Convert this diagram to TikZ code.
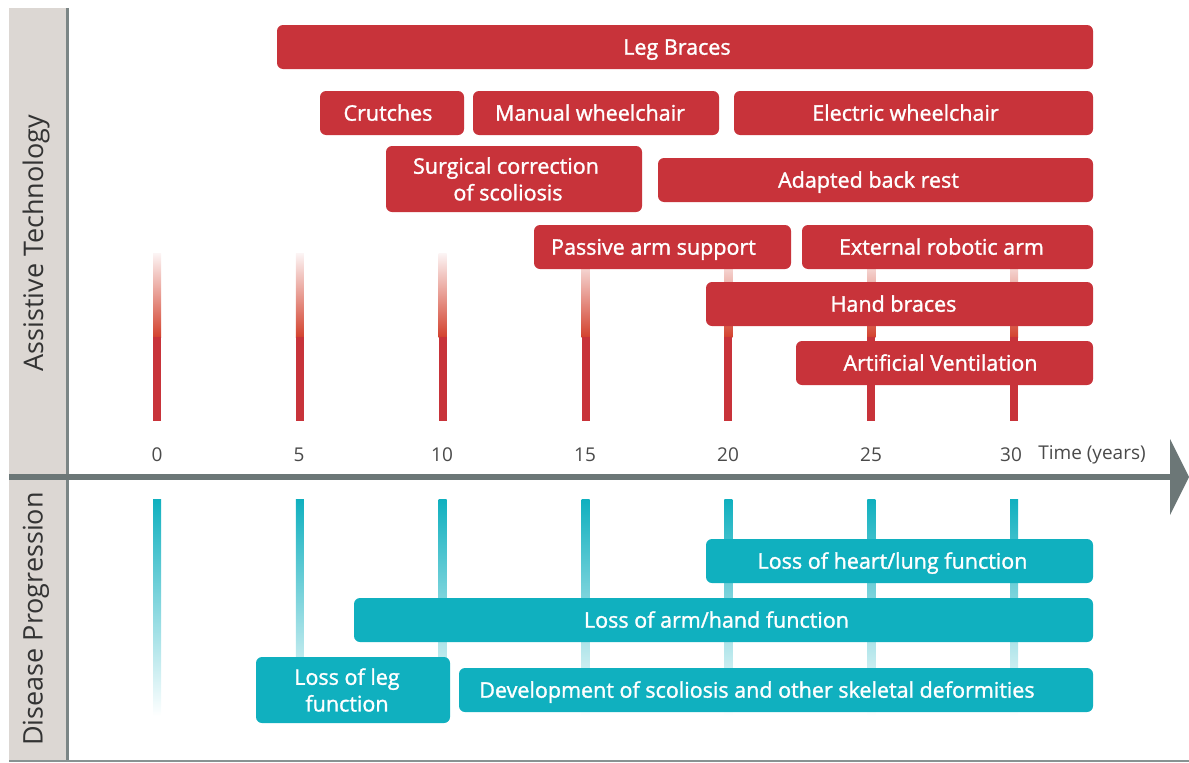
\documentclass[tikz,border=0pt]{standalone}
\usepackage{fontspec}
\setmainfont{Open Sans}
\newfontfamily\boxfont{Open Sans}[FakeBold=1.4]
\newcommand\rpad[1]{\hspace*{#1pt}}
\definecolor{side}{HTML}{DCD7D3}
\definecolor{axisgray}{HTML}{6C7777}
\definecolor{rbar}{HTML}{C8333A}
\definecolor{tbar}{HTML}{10B0BF}
\definecolor{lbl}{HTML}{4A4A4A}
\tikzset{
  rbox/.style={fill=rbar, draw=none, rounded corners=6pt, inner sep=0pt, outer sep=0pt, anchor=north west,
    text=white, align=center, font=\boxfont\fontsize{21.5}{26.7}\selectfont},
  tbox/.style={rbox, fill=tbar},
  one/.style={text height=15.4pt, text depth=0pt},
  ticklbl/.style={text=lbl, font=\fontsize{19}{22}\selectfont, inner sep=0pt},
  sidelbl/.style={rotate=90, text=black!80, font=\fontsize{27}{30}\selectfont, inner sep=0pt}
}
\begin{document}
\begin{tikzpicture}[x=1pt,y=-1pt]
\useasboundingbox (0,0) rectangle (1189,763);
% sidebar
\fill[side] (9,8) rectangle (66,761);
\draw[axisgray!90, line width=3pt] (67,8) -- (67,761);
\draw[axisgray!80, line width=2.5pt] (9,761) -- (1189,761);
\node[sidelbl] (sat) at (36,243) {Assistive Technology};
\node[sidelbl] (sdp) at (36,619) {Disease Progression};
% red and teal ticks
\foreach \t in {0,5,...,30}{
  \pgfmathsetmacro{\xx}{157+28.57*\t}
  \shade[top color=rbar!5, bottom color=rbar!80!orange] (\xx-4,253) rectangle (\xx+4,337);
  \fill[rbar] (\xx-4,337) rectangle (\xx+4,421);
  \shade[top color=tbar, bottom color=white] (\xx-4,499) rectangle (\xx+4,716);
}
% axis
\draw[axisgray, line width=6.5pt] (9,477) -- (1172,477);
\fill[axisgray] (1170,439) -- (1189,477) -- (1170,515) -- cycle;
% tick labels
\node[ticklbl] (l0) at (157,455) {0};
\node[ticklbl] (l5) at (299,455) {5};
\node[ticklbl] (l10) at (442,455) {10};
\node[ticklbl] (l15) at (585,455) {15};
\node[ticklbl] (l20) at (728,455) {20};
\node[ticklbl] (l25) at (871,455) {25};
\node[ticklbl] (l30) at (1011,455) {30};
\node[ticklbl] (ltime) at (1092,455) {Time (years)};
% red boxes
\node[rbox, one, minimum width=816pt, minimum height=44pt] (legbraces) at (277,25) {Leg Braces\rpad{16}};
\node[rbox, one, minimum width=144pt, minimum height=44pt] (crutches) at (320,91) {Crutches\rpad{8}};
\node[rbox, one, minimum width=246pt, minimum height=44pt] (manual) at (473,91) {Manual wheelchair\rpad{12}};
\node[rbox, one, minimum width=359pt, minimum height=44pt] (electric) at (734,91) {Electric wheelchair\rpad{16}};
\node[rbox, minimum width=256pt, minimum height=66pt] (surgical) at (386,146) {Surgical correction\rpad{16}\\of scoliosis\rpad{12}};
\node[rbox, one, minimum width=435pt, minimum height=44pt] (backrest) at (658,158) {Adapted back rest\rpad{14}};
\node[rbox, one, minimum width=257pt, minimum height=44pt] (passive) at (534,225) {Passive arm support\rpad{18}};
\node[rbox, one, minimum width=291pt, minimum height=44pt] (robotic) at (802,225) {External robotic arm\rpad{12}};
\node[rbox, one, minimum width=387pt, minimum height=44pt] (hand) at (706,282) {Hand braces\rpad{12}};
\node[rbox, one, minimum width=297pt, minimum height=44pt] (vent) at (796,341) {Artificial Ventilation\rpad{8}};
% teal boxes
\node[tbox, one, minimum width=387pt, minimum height=44pt] (heart) at (706,539) {Loss of heart/lung function\rpad{14}};
\node[tbox, one, minimum width=739pt, minimum height=44pt] (arm) at (354,598) {Loss of arm/hand function\rpad{14}};
\node[tbox, minimum width=194pt, minimum height=66pt] (leg) at (256,657) {Loss of leg\rpad{12}\\function\rpad{12}};
\node[tbox, one, minimum width=634pt, minimum height=44pt] (scol) at (459,668) {Development of scoliosis and other skeletal deformities\rpad{38}};
\end{tikzpicture}
\end{document}
